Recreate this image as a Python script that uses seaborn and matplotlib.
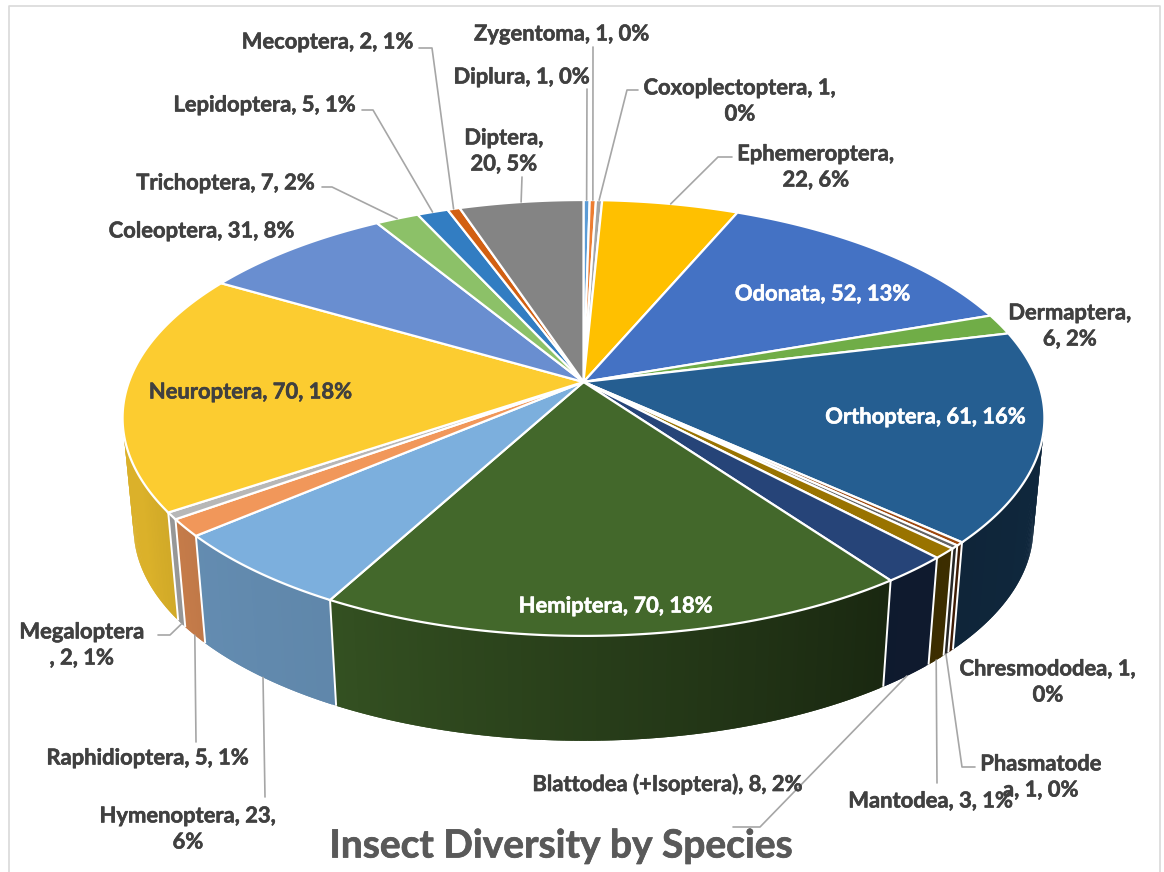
import numpy as np
import matplotlib
matplotlib.use("Agg")
import matplotlib.pyplot as plt
import matplotlib.patheffects as pe
from matplotlib.patches import Polygon
from matplotlib.colors import to_rgb
import seaborn as sns

# Insect orders, clockwise from twelve o'clock
orders = ["Diplura", "Zygentoma", "Coxoplectoptera", "Ephemeroptera", "Odonata",
          "Dermaptera", "Orthoptera", "Chresmododea", "Phasmatodea", "Mantodea",
          "Blattodea (+Isoptera)", "Hemiptera", "Hymenoptera", "Raphidioptera",
          "Megaloptera", "Neuroptera", "Coleoptera", "Trichoptera", "Lepidoptera",
          "Mecoptera", "Diptera"]
species = [1, 1, 1, 22, 52, 6, 61, 1, 1, 3, 8, 70, 23, 5, 2, 70, 31, 7, 5, 2, 20]
slice_colors = ["#5b9bd5", "#ed7d31", "#a5a5a5", "#ffc000", "#4472c4", "#70ad47",
                "#255e91", "#9e480e", "#636363", "#997300", "#264478", "#43682b",
                "#7cafdd", "#f1975a", "#b7b7b7", "#fccc30", "#698ed0", "#8cc168",
                "#327dc2", "#d26012", "#848484"]

# Where a label wraps (characters on its first line) and where its block is centred
wrap_after = {"Coxoplectoptera": 19, "Ephemeroptera": 14, "Dermaptera": 11,
              "Chresmododea": 16, "Phasmatodea": 10, "Hymenoptera": 16,
              "Megaloptera": 11, "Diptera": 8}
label_xy = {"Diplura": (522, 77), "Zygentoma": (562, 34), "Coxoplectoptera": (740, 101),
            "Ephemeroptera": (816, 167), "Odonata": (823, 294), "Dermaptera": (1070, 326),
            "Orthoptera": (926, 417), "Chresmododea": (1048, 682), "Phasmatodea": (1041, 777),
            "Mantodea": (931, 801), "Blattodea (+Isoptera)": (668, 784), "Hemiptera": (616, 606),
            "Hymenoptera": (188, 829), "Raphidioptera": (148, 758), "Megaloptera": (82, 645),
            "Neuroptera": (251, 392), "Coleoptera": (202, 231), "Trichoptera": (226, 183),
            "Lepidoptera": (265, 105), "Mecoptera": (328, 42), "Diptera": (504, 151)}
white_labels = ["Odonata", "Orthoptera", "Hemiptera"]

# Leader-line bends near each label; the far end is computed on the pie
top_leaders = {"Diplura": [(587, 89)], "Zygentoma": [(593, 47)],
               "Coxoplectoptera": [(638, 90), (627, 90)],
               "Ephemeroptera": [(732, 157), (718, 157)], "Diptera": [(522, 177)],
               "Mecoptera": [(419, 48), (432, 48)], "Lepidoptera": [(362, 110), (373, 110)],
               "Trichoptera": [(322, 187), (332, 187)]}
base_leaders = {"Megaloptera": [(158, 635), (170, 635)], "Raphidioptera": [(196, 742)],
                "Hymenoptera": [(265, 797)], "Blattodea (+Isoptera)": [(733, 827), (760, 827)],
                "Mantodea": [(937, 783)], "Phasmatodea": [(975, 767), (962, 767)]}

sns.set_theme(style="white")
plt.rcParams["font.family"] = ["Lato", "DejaVu Sans"]
palette = sns.color_palette(slice_colors)

# Perspective model of the tilted disc, in figure pixels
CX, CY = 583.5, 382.0
RX, RY, PERSP = 454.6, 212.0, 0.165
BASE_SCALE, BASE_DROP = 0.976, 111.0


def rim(theta_deg):
    t = np.radians(theta_deg)
    x, y = np.sin(t), np.cos(t)
    d = 1 + PERSP * y
    return CX + RX * x / d, CY - RY * y / d


def base(theta_deg):
    x, y = rim(theta_deg)
    return CX + (x - CX) * BASE_SCALE, CY + (y - CY) * BASE_SCALE + BASE_DROP


def wall_shade(theta_deg):
    return np.interp(theta_deg, [90, 144, 208, 230, 245, 270],
                     [0.44, 0.38, 0.77, 0.80, 0.87, 0.87])


fig = plt.figure(figsize=(11.64, 8.72), dpi=100)
ax = fig.add_axes([0, 0, 1, 1])
ax.set_xlim(0, 1164)
ax.set_ylim(872, 0)
ax.axis("off")

# Chart frame, open at the bottom
ax.plot([9, 9, 1160, 1160], [872, 6.5, 6.5, 872], color="#d9d9d9", lw=1.2, zorder=0)

values = np.array(species, dtype=float)
total = values.sum()
edges = np.concatenate([[0], np.cumsum(values)]) / total * 360
mids = (edges[:-1] + edges[1:]) / 2
mid_of = dict(zip(orders, mids))

# Side wall: overlapping shaded strips, one wedge at a time, so no seams show
for a0, a1, col in zip(edges[:-1], edges[1:], palette):
    steps = np.linspace(a0, a1, max(2, int((a1 - a0) / 0.5) + 2))
    for s0, s1 in zip(steps[:-1], steps[1:]):
        shade = wall_shade((s0 + s1) / 2)
        face = tuple(c * shade for c in to_rgb(col))
        s_end = min(a1, s1 + (s1 - s0))
        span = np.linspace(s0, s_end, 4)
        outline = [rim(a) for a in span] + [base(a) for a in span[::-1]]
        ax.add_patch(Polygon(outline, closed=True, facecolor=face,
                             edgecolor="none", zorder=2))
for a in edges:
    if 95 < a < 262:
        xa, ya = rim(a)
        xb, yb = base(a)
        ax.plot([xa, xb], [ya, yb], color="white", lw=1.4, zorder=3,
                solid_capstyle="butt")

# Top face of the disc
for a0, a1, col in zip(edges[:-1], edges[1:], palette):
    arc = [rim(a) for a in np.linspace(a0, a1, max(2, int(a1 - a0) * 2 + 2))]
    ax.add_patch(Polygon([(CX, CY)] + arc, closed=True, facecolor=col,
                         edgecolor="white", lw=1.6, joinstyle="miter", zorder=4))

# Leader lines
for name, bends in top_leaders.items():
    pts = bends + [rim(mid_of[name])]
    ax.plot(*zip(*pts), color="#a6a6a6", lw=1.2, zorder=5)
for name, bends in base_leaders.items():
    pts = bends + [base(mid_of[name])]
    ax.plot(*zip(*pts), color="#a6a6a6", lw=1.2, zorder=5)

# Data labels: name, species count, share of the total
for name, v in zip(orders, species):
    text = f"{name}, {v}, {round(v / total * 100)}%"
    if name in wrap_after:
        n = wrap_after[name]
        text = text[:n] + "\n" + text[n:].strip()
    x, y = label_xy[name]
    color = "white" if name in white_labels else "#404040"
    label = ax.text(x, y, text, ha="center", va="center", fontsize=15.8, fontweight="bold",
                    linespacing=1.3, color=color, zorder=6)
    label.set_path_effects([pe.withStroke(linewidth=0.4, foreground=color)])

title = ax.text(561, 846, "Insect Diversity by Species", ha="center", va="center",
                fontsize=28, fontweight="bold", color="#595959", zorder=6)
title.set_path_effects([pe.withStroke(linewidth=0.5, foreground="#595959")])

fig.savefig("out.png", dpi=100, facecolor="white")
